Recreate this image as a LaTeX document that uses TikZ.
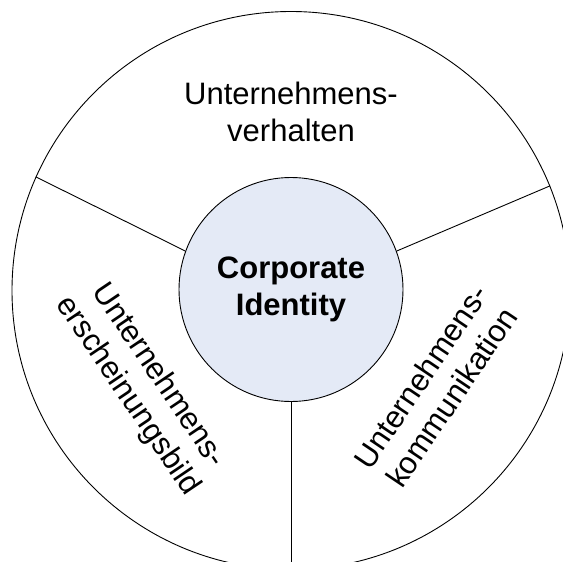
\documentclass[tikz,border=0pt]{standalone}
\usepackage{fontspec}
\setmainfont{Liberation Sans}
\definecolor{innerfill}{RGB}{228,234,246}
\begin{document}
\begin{tikzpicture}[x=1pt,y=-1pt,
  ring/.style={circle,draw,line width=0.9pt,inner sep=0pt},
  sep/.style={line width=0.9pt},
  lbl/.style={align=center,font=\fontsize{31}{37}\selectfont,inner sep=0pt}]
\useasboundingbox (0,0) rectangle (563,562);
\clip (0,0) rectangle (563,562);
\node[ring,minimum size=558pt] (big) at (291,290.5) {};
\node[ring,minimum size=224pt,fill=innerfill,align=center,
      font=\fontsize{31}{37}\selectfont\bfseries] (ci) at (291,289.5) {Corporate\\Identity};
\draw[sep] (big.156.6) -- (ci.160.3);
\draw[sep] (big.22.3) -- (ci.20);
\draw[sep] (ci.south) -- (big.south);
\node[lbl] (top) at (291,112) {Unternehmens-\\verhalten};
\node[lbl,rotate=-56] (left) at (143,386) {Unternehmens-\\erscheinungsbild};
\node[lbl,rotate=56] (right) at (436,387) {Unternehmens-\\kommunikation};
\end{tikzpicture}
\end{document}
